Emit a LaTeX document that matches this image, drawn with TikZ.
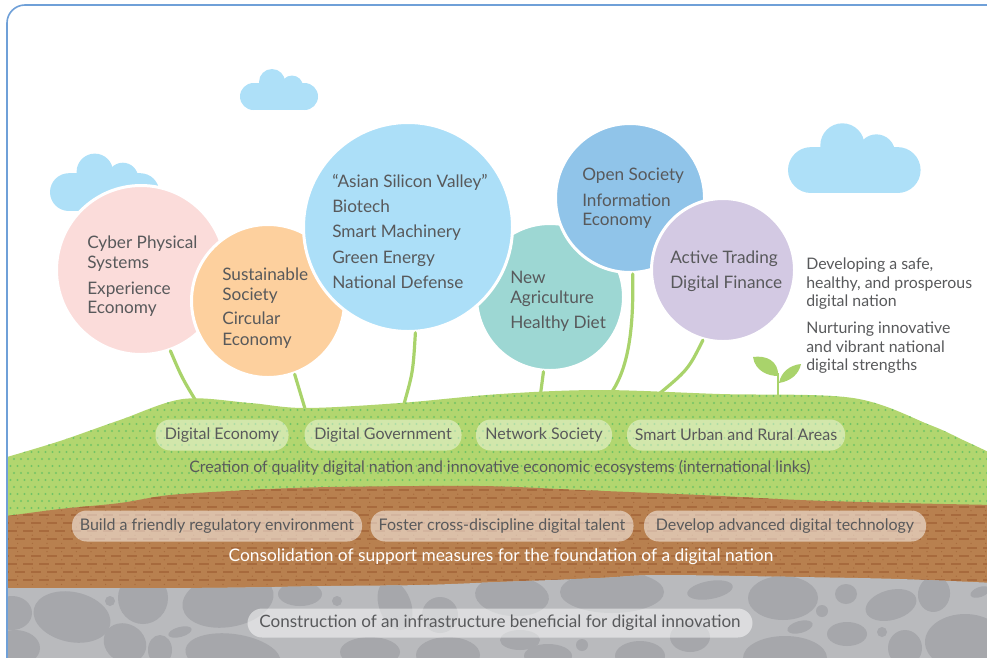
\documentclass[tikz,border=0pt]{standalone}
\usepackage{fontspec}
\setmainfont{Lato}
\usetikzlibrary{calc}

\definecolor{framec}{HTML}{6FA0D8}
\definecolor{cloudc}{HTML}{AEE0F8}
\definecolor{pinkc}{HTML}{FBDCDA}
\definecolor{orangec}{HTML}{FDD09E}
\definecolor{skyc}{HTML}{ACDFF8}
\definecolor{tealc}{HTML}{9DD7D3}
\definecolor{bluec}{HTML}{90C4E9}
\definecolor{lilacc}{HTML}{D3C9E3}
\definecolor{stemc}{HTML}{A9D36B}
\definecolor{grassc}{HTML}{B2D66F}
\definecolor{grassdot}{HTML}{72C365}
\definecolor{soilc}{HTML}{B8804F}
\definecolor{soildash}{HTML}{A76A3D}
\definecolor{rockc}{HTML}{B9BABD}
\definecolor{rockblob}{HTML}{A6A7AB}
\definecolor{txtc}{HTML}{58595B}

\tikzset{
  bubble/.style={circle, draw=white, line width=2.25pt, inner sep=0pt},
  ctext/.style={anchor=mid west, inner sep=0pt, text=txtc, font=\fontsize{12.9}{15}\selectfont},
  rtext/.style={anchor=mid west, inner sep=0pt, text=txtc, font=\fontsize{11.9}{13}\selectfont},
  stemline/.style={draw=stemc, line width=2.4pt, line cap=round},
  pill/.style={rectangle, rounded corners=11pt, minimum height=23.25pt, inner sep=0pt,
    fill=white, fill opacity=#1, text opacity=1, text=txtc, font=\fontsize{12}{14}\selectfont},
  caption/.style={inner sep=0pt, font=\fontsize{11.9}{13}\selectfont},
  blob/.style={fill=rockblob},
  cloudshape/.style={fill=cloudc}
}

\newcommand{\drawcloud}[3]{%
  \begin{scope}[shift={(#1,#2)}, scale=#3]
    \fill[cloudshape] (13.5,-13.5) circle (13.5);
    \fill[cloudshape] (64.5,-13.5) circle (13.5);
    \fill[cloudshape] (32,-28) circle (13);
    \fill[cloudshape] (52,-23.5) circle (11);
    \fill[cloudshape] (13.5,0) rectangle (64.5,-27);
  \end{scope}}

\begin{document}
\begin{tikzpicture}[x=0.75pt, y=-0.75pt]
\useasboundingbox (0,0) rectangle (987,657);
\clip (0,0) rectangle (987,657);

% clouds
\drawcloud{240}{110}{1}
\drawcloud{50}{211}{1.4}
\drawcloud{788}{193}{1.7}

% ends of the stems, hidden in the grass
\coordinate (g1) at (199,406);
\coordinate (g2) at (306,412);
\coordinate (g3) at (404,404);
\coordinate (g4) at (540,398);
\coordinate (g5) at (609,396);
\coordinate (g6) at (654,398);

% bubbles
\node[bubble, fill=pinkc,  minimum size={169*0.75pt}] (pink)  at (141,270) {};
\node[bubble, fill=orangec,minimum size={153*0.75pt}] (orange) at (268,301) {};
\node[bubble, fill=tealc,  minimum size={147*0.75pt}] (teal)  at (550,297) {};
\node[bubble, fill=skyc,   minimum size={209*0.75pt}] (sky)   at (408,227) {};
\node[bubble, fill=bluec,  minimum size={149*0.75pt}] (blue)  at (630,198) {};
\node[bubble, fill=lilacc, minimum size={143*0.75pt}] (lilac) at (723,270) {};

% stems
\draw[stemline] (pink.-70) .. controls (182,378) .. (g1);
\draw[stemline] (orange.-70) .. controls (300,392) .. (g2);
\draw[stemline] (sky.-86) .. controls (413,372) .. (g3);
\draw[stemline] (teal.-95) -- (g4);
\draw[stemline] (blue.-88) .. controls (634,335) and (627,372) .. (g5);
\draw[stemline] (lilac.-106) .. controls (688,370) .. (g6);

% sprout
\coordinate (sproutbase) at (778,400);
\coordinate (sprouttop) at (778,373);
\draw[draw=stemc, line width=2pt] (sproutbase) -- (sprouttop);
\fill[stemc] (778,376) .. controls (768,376) and (755,371) .. (753,357)
   .. controls (766,355) and (779,361) .. (778,376) -- cycle;
\fill[stemc] (779,383) .. controls (781,372) and (790,365) .. (801,364)
   .. controls (799,374) and (791,381) .. (779,383) -- cycle;

% ground outlines
\def\grasspath{plot[smooth, tension=0.55] coordinates {(7,457) (60,441) (120,420) (183,399) (250,403) (305,408) (400,403) (500,394) (600,390) (720,394) (853,398) (930,425) (963,440) (995,455)} -- (995,660) -- (7,660) -- cycle}
\def\soilpath{plot[smooth, tension=0.55] coordinates {(7,516) (60,509) (120,503) (170,495) (250,490) (330,487) (480,486) (580,490) (700,495) (800,500) (900,503) (995,505)} -- (995,660) -- (7,660) -- cycle}
\def\rockpath{plot[smooth, tension=0.55] coordinates {(7,588) (200,588) (330,586) (420,585) (500,582) (600,578) (660,575) (800,577) (900,579) (995,583)} -- (995,660) -- (7,660) -- cycle}

% grass layer with its dots
\fill[grassc] \grasspath;
\begin{scope}
  \clip \grasspath;
  \foreach \r in {0,...,19} {
    \pgfmathsetmacro{\yy}{389+7*\r}
    \ifodd\r
      \draw[grassdot, line width=1.6pt, line cap=round, dash pattern=on 0pt off 5.25pt, dash phase=2.62pt] (7,\yy) -- (995,\yy);
    \else
      \draw[grassdot, line width=1.6pt, line cap=round, dash pattern=on 0pt off 5.25pt] (7,\yy) -- (995,\yy);
    \fi
  }
\end{scope}

% soil layer with its dashes
\fill[soilc] \soilpath;
\begin{scope}
  \clip \soilpath;
  \foreach \r in {0,...,14} {
    \pgfmathsetmacro{\yy}{482+8.2*\r}
    \pgfmathsetmacro{\yd}{486+8.2*\r}
    \ifodd\r
      \draw[soildash, line width=1.5pt, dash pattern=on 7.5pt off 4.5pt, dash phase=6pt] (7,\yy) -- (995,\yy);
    \else
      \draw[soildash, line width=1.5pt, dash pattern=on 7.5pt off 4.5pt] (7,\yy) -- (995,\yy);
    \fi
    \draw[soildash, line width=1pt, line cap=round, dash pattern=on 0pt off 11pt, dash phase=3pt] (7,\yd) -- (995,\yd);
  }
\end{scope}

% rock layer with its stones
\fill[rockc] \rockpath;
\begin{scope}
  \clip \rockpath;
  \fill[blob] (12,613) ellipse [x radius=20, y radius=17];
  \fill[blob, rotate around={-12:(72,617)}] (72,617) ellipse [x radius=39, y radius=25];
  \fill[blob] (110,601) circle (5);
  \fill[blob] (143,598) ellipse [x radius=25, y radius=26];
  \fill[blob, rotate around={10:(228,600)}] (228,600) ellipse [x radius=46, y radius=27];
  \fill[blob] (300,594) ellipse [x radius=22, y radius=12];
  \fill[blob] (15,648) ellipse [x radius=25, y radius=18];
  \fill[blob, rotate around={-30:(125,643)}] (125,643) ellipse [x radius=22, y radius=19];
  \fill[blob] (160,650) ellipse [x radius=12, y radius=15];
  \fill[blob, rotate around={15:(180,632)}] (180,632) ellipse [x radius=12, y radius=5];
  \fill[blob, rotate around={-8:(233,656)}] (233,656) ellipse [x radius=48, y radius=22];
  \fill[blob] (337,601) circle (5);
  \fill[blob, rotate around={20:(395,605)}] (395,605) ellipse [x radius=16, y radius=26];
  \fill[blob] (440,615) ellipse [x radius=18, y radius=18];
  \fill[blob, rotate around={-5:(512,596)}] (512,596) ellipse [x radius=37, y radius=20];
  \fill[blob] (612,592) ellipse [x radius=52, y radius=21];
  \fill[blob] (370,652) ellipse [x radius=30, y radius=15];
  \fill[blob] (448,655) ellipse [x radius=32, y radius=18];
  \fill[blob] (520,640) ellipse [x radius=20, y radius=10];
  \fill[blob] (548,656) ellipse [x radius=24, y radius=12];
  \fill[blob] (582,645) circle (6);
  \fill[blob] (640,656) ellipse [x radius=25, y radius=15];
  \fill[blob] (690,637) ellipse [x radius=20, y radius=15];
  \fill[blob, rotate around={10:(710,590)}] (710,590) ellipse [x radius=23, y radius=9];
  \fill[blob] (783,598) ellipse [x radius=35, y radius=22];
  \fill[blob] (846,594) ellipse [x radius=11, y radius=10];
  \fill[blob] (822,611) circle (6);
  \fill[blob, rotate around={15:(891,605)}] (891,605) ellipse [x radius=26, y radius=15];
  \fill[blob, rotate around={-10:(934,594)}] (934,594) ellipse [x radius=16, y radius=18];
  \fill[blob, rotate around={20:(980,592)}] (980,592) ellipse [x radius=10, y radius=5];
  \fill[blob, rotate around={15:(800,627)}] (800,627) ellipse [x radius=13, y radius=6];
  \fill[blob] (847,634) ellipse [x radius=20, y radius=12];
  \fill[blob] (882,632) circle (5);
  \fill[blob] (965,642) ellipse [x radius=40, y radius=28];
  \fill[blob] (785,658) ellipse [x radius=42, y radius=22];
  \fill[blob] (905,648) ellipse [x radius=17, y radius=18];
\end{scope}

% bubble texts
\foreach \y/\t [count=\i] in {245/Cyber Physical, 265/Systems, 291/Experience, 310/Economy}
  \node[ctext] (pinkt\i) at (87,\y) {\t};
\foreach \y/\t [count=\i] in {277/Sustainable, 297/Society, 321/Circular, 342/Economy}
  \node[ctext] (oranget\i) at (222,\y) {\t};
\foreach \y/\t [count=\i] in {184/“Asian Silicon Valley”, 209/Biotech, 234/Smart Machinery, 260/Green Energy, 285/National Defense}
  \node[ctext] (skyt\i) at (332,\y) {\t};
\foreach \y/\t [count=\i] in {280/New, 300/Agriculture, 325/Healthy Diet}
  \node[ctext] (tealt\i) at (510,\y) {\t};
\foreach \y/\t [count=\i] in {177/Open Society, 203/Information, 222/Economy}
  \node[ctext] (bluet\i) at (582,\y) {\t};
\foreach \y/\t [count=\i] in {260/Active Trading, 285/Digital Finance}
  \node[ctext] (lilact\i) at (670,\y) {\t};

% goals beside the bubbles
\foreach \y/\t [count=\i] in {266/{Developing a safe,}, 285/{healthy, and prosperous}, 303/digital nation, 330/Nurturing innovative, 349/and vibrant national, 367/digital strengths}
  \node[rtext] (goal\i) at (806,\y) {\t};

% grass layer labels
\node[pill=0.42, minimum width={133*0.75pt}] (p1) at (222,435) {Digital Economy};
\node[pill=0.42, minimum width={157*0.75pt}] (p2) at (383,435) {Digital Government};
\node[pill=0.42, minimum width={136*0.75pt}] (p3) at (544,435) {Network Society};
\node[pill=0.42, minimum width={218*0.75pt}] (p4) at (736,435) {Smart Urban and Rural Areas};
\node[caption, text=txtc] (c1) at (500,468) {Creation of quality digital nation and innovative economic ecosystems (international links)};

% soil layer labels
\node[pill=0.5, minimum width={290*0.75pt}] (s1) at (217,526) {Build a friendly regulatory environment};
\node[pill=0.5, minimum width={263*0.75pt}] (s2) at (502,526) {Foster cross-discipline digital talent};
\node[pill=0.5, minimum width={282*0.75pt}] (s3) at (785,526) {Develop advanced digital technology};
\node[caption, text=white, font=\fontsize{13}{15}\selectfont] (c2) at (501,557) {Consolidation of support measures for the foundation of a digital nation};

% rock layer label
\node[pill=0.5, minimum width={505*0.75pt}, minimum height={29*0.75pt}, font=\fontsize{12.8}{15}\selectfont] (r1) at (500,623) {Construction of an infrastructure beneficial for digital innovation};

% frame
\draw[framec, line width=1.2pt, rounded corners=13.5pt] (7,720) -- (7,5) -- (1010,5);
\end{tikzpicture}
\end{document}
